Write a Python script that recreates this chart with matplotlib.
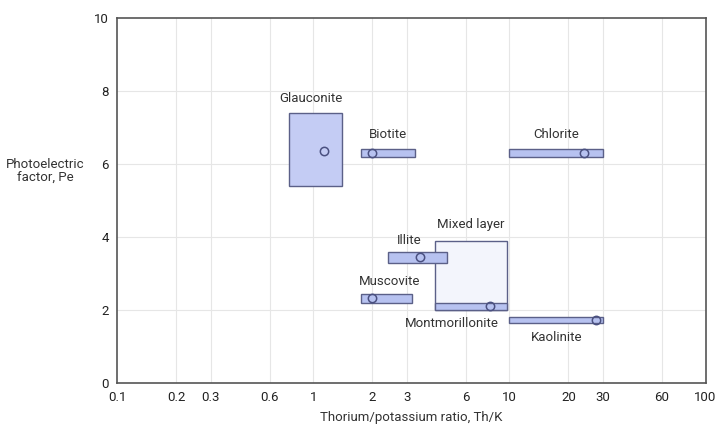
import matplotlib
matplotlib.use("Agg")
import matplotlib.pyplot as plt
from matplotlib.patches import Rectangle

plt.rcParams['font.family'] = ['Roboto', 'DejaVu Sans']

# mineral zones on the Th/K vs Pe crossplot
minerals = ["Mixed layer", "Glauconite", "Biotite", "Chlorite", "Illite",
            "Montmorillonite", "Muscovite", "Kaolinite"]
thk_low = [4.2, 0.75, 1.75, 10.0, 2.4, 4.2, 1.75, 10.0]
thk_high = [9.7, 1.4, 3.3, 30.0, 4.8, 9.7, 3.2, 30.0]
pe_low = [2.0, 5.4, 6.2, 6.2, 3.3, 2.0, 2.2, 1.65]
pe_high = [3.9, 7.4, 6.4, 6.4, 3.6, 2.2, 2.45, 1.8]
# typical value for each mineral (None = no point)
thk_point = [None, 1.13, 2.0, 24.0, 3.5, 8.0, 2.0, 27.5]
pe_point = [None, 6.35, 6.3, 6.3, 3.45, 2.1, 2.33, 1.72]

xticks = [0.1, 0.2, 0.3, 0.6, 1, 2, 3, 6, 10, 20, 30, 60, 100]
xtick_labels = ["0.1", "0.2", "0.3", "0.6", "1", "2", "3", "6", "10", "20", "30", "60", "100"]
yticks = [0, 2, 4, 6, 8, 10]

# label placement: side of the box, offset in points (dx, dy)
label_style = {
    "Mixed layer": ("above", 0, 7),
    "Glauconite": ("above", -3, 6),
    "Biotite": ("above", 0, 6),
    "Chlorite": ("above", 0, 6),
    "Illite": ("above", -6, 3),
    "Montmorillonite": ("below", -14, -5),
    "Muscovite": ("above", 2, 4),
    "Kaolinite": ("below", 0, -6),
}
fills = {"Mixed layer": "#f3f5fc", "Glauconite": "#c4ccf4"}
bar_fill = "#b7c2f0"
edge = "#5b6088"
fs = 9.5

fig = plt.figure(figsize=(7.16, 4.29), dpi=100)
ax = fig.add_axes([0.1634, 0.1072, 0.8220, 0.8508])
ax.set_xscale("log")
ax.set_xlim(0.1, 100)
ax.set_ylim(0, 10)

for i, name in enumerate(minerals):
    x0, x1 = thk_low[i], thk_high[i]
    y0, y1 = pe_low[i], pe_high[i]
    ax.add_patch(Rectangle((x0, y0), x1 - x0, y1 - y0,
                           facecolor=fills.get(name, bar_fill),
                           edgecolor=edge, lw=1.0, zorder=3))
    if thk_point[i] is not None:
        ax.plot(thk_point[i], pe_point[i], "o", ms=6, mfc="none",
                mec="#4a5080", mew=1.1, zorder=4)
    side, dx, dy = label_style[name]
    xc = (x0 * x1) ** 0.5
    yc = y1 if side == "above" else y0
    ax.annotate(name, (xc, yc), xytext=(dx, dy), textcoords="offset points",
                ha="center", va="bottom" if side == "above" else "top",
                fontsize=fs, color="#333333", zorder=5)

ax.set_xticks(xticks)
ax.set_xticklabels(xtick_labels)
ax.minorticks_off()
ax.set_yticks(yticks)
ax.tick_params(length=0, labelsize=fs, labelcolor="#222222", pad=6)

for x in xticks[1:-1]:
    ax.axvline(x, color="#e6e6e6", lw=0.8, zorder=1)
for y in yticks[1:-1]:
    ax.axhline(y, color="#e6e6e6", lw=0.8, zorder=1)

for s in ax.spines.values():
    s.set_color("#555555")
    s.set_linewidth(1.2)

ax.set_xlabel("Thorium/potassium ratio, Th/K", fontsize=fs, color="#333333", labelpad=5)
fig.text(0.063, 0.60, "Photoelectric\nfactor, Pe", ha="center", va="center",
         fontsize=fs, color="#333333", linespacing=1.1)

fig.savefig("out.png", dpi=100)
